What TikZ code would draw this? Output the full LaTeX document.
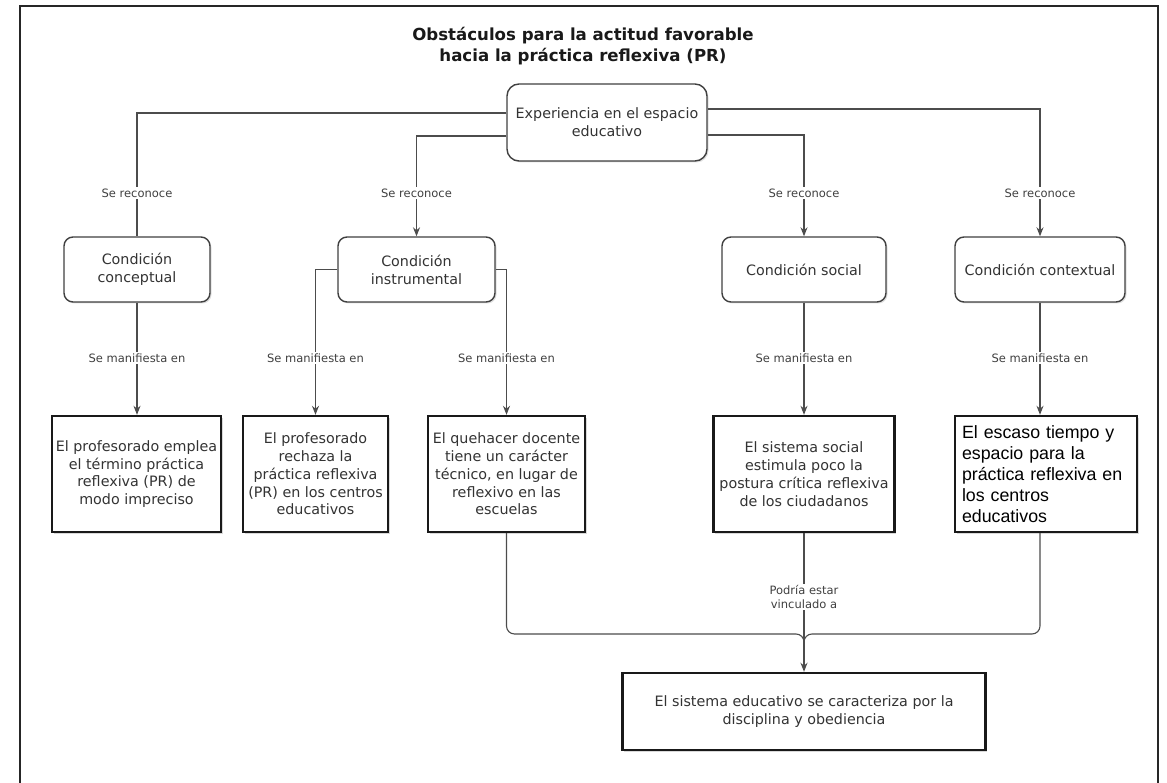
\documentclass[tikz,border=0pt]{standalone}
\usepackage{fontspec}
\setmainfont{DejaVu Sans}
\newfontfamily\helvfont{Liberation Sans}
\usetikzlibrary{arrows.meta,shadows}
\tikzset{
  outerframe/.style={draw=black!85,line width=2.5pt},
  conn/.style={draw=black!70,line width=1.1pt},
  arr/.style={conn,-{Stealth[length=9pt,width=7pt]}},
  boxfont/.style={font=\fontsize{14.3}{17.8}\selectfont,text=black!80},
  cond/.style={boxfont,draw=black!75,line width=1.4pt,rounded corners=9pt,fill=white,align=center,
    drop shadow={shadow xshift=1.5pt,shadow yshift=-1.5pt,opacity=0.25}},
  res/.style={boxfont,draw=black!90,line width=2.4pt,fill=white,align=center,minimum height=116pt,
    drop shadow={shadow xshift=1.5pt,shadow yshift=-1.5pt,opacity=0.3}},
  lbl/.style={fill=white,inner sep=1.5pt,font=\fontsize{11.5}{14.5}\selectfont,text=black!75,align=center},
}
\begin{document}
\begin{tikzpicture}[x=1pt,y=-1pt]
\useasboundingbox (0,0) rectangle (1167,783);
\def\ycond{269.5}
\def\yres{474}
\def\yrec{193}
\def\yman{358}

% frame, open at the bottom
\draw[outerframe] (20,790) -- (20,6) -- (1158,6) -- (1158,790);

\node[align=center,font=\fontsize{16.6}{20.5}\selectfont\bfseries,text=black!90] (title) at (583,46) {Obstáculos para la actitud favorable\\hacia la práctica reflexiva (PR)};

\node[cond,rounded corners=12pt,minimum width=200pt,minimum height=77pt] (exp) at (607,122.5) {Experiencia en el espacio\\educativo};

% conditions
\node[cond,minimum width=146pt,minimum height=65pt] (cconc) at (137,\ycond) {Condición\\conceptual};
\node[cond,minimum width=157pt,minimum height=65pt] (cinst) at (416.5,\ycond) {Condición\\instrumental};
\node[cond,minimum width=164pt,minimum height=65pt] (csoc) at (804,\ycond) {Condición social};
\node[cond,minimum width=170pt,minimum height=65pt] (ccont) at (1040,\ycond) {Condición contextual};

% manifestations
\node[res,minimum width=169pt] (rconc) at (136.5,\yres) {El profesorado emplea\\el término práctica\\reflexiva (PR) de\\modo impreciso};
\node[res,minimum width=145pt] (rinsta) at (315.5,\yres) {El profesorado\\rechaza la\\práctica reflexiva\\(PR) en los centros\\educativos};
\node[res,minimum width=157pt] (rinstb) at (506.5,\yres) {El quehacer docente\\tiene un carácter\\técnico, en lugar de\\reflexivo en las\\escuelas};
\node[res,minimum width=181pt] (rsoc) at (804,\yres) {El sistema social\\estimula poco la\\postura crítica reflexiva\\de los ciudadanos};
\node[res,align=left,text width=168pt,inner xsep=7pt,font=\helvfont\fontsize{17.8}{21}\selectfont,text=black] (rcont) at (1046,\yres) {El escaso tiempo y\\espacio para la\\práctica reflexiva en\\los centros\\educativos};

\node[res,minimum width=363pt,minimum height=77pt] (final) at (804,711.5) {El sistema educativo se caracteriza por la\\disciplina y obediencia};

\coordinate (jn) at (final.north |- 0,634);

% connectors
\draw[conn] ([yshift=9.5pt]exp.west) -| (cconc.north);
\draw[arr] ([yshift=-13.5pt]exp.west) -| (cinst.north);
\draw[arr] ([yshift=-12.5pt]exp.east) -| (csoc.north);
\draw[arr] ([yshift=13.5pt]exp.east) -| (ccont.north);

\draw[arr] (cconc.south) -- (cconc.south |- rconc.north);
\draw[arr] (cinst.west) -| (rinsta.north);
\draw[arr] (cinst.east) -| (rinstb.north);
\draw[arr] (csoc.south) -- (rsoc.north);
\draw[arr] (ccont.south) -- (ccont.south |- rcont.north);

\draw[conn,rounded corners=8pt] (rinstb.south) |- (jn) -- ([yshift=-8pt]jn);
\draw[conn,rounded corners=8pt] (ccont.south |- rcont.south) |- (jn) -- ([yshift=-8pt]jn);
\draw[conn] (rsoc.south) -- ([yshift=-8pt]jn);
\draw[arr,line width=1.8pt] ([yshift=-8pt]jn) -- (final.north);

% labels
\node[lbl] (lreca) at (cconc.north |- 0,\yrec) {Se reconoce};
\node[lbl] (lrecb) at (cinst.north |- 0,\yrec) {Se reconoce};
\node[lbl] (lrecc) at (csoc.north |- 0,\yrec) {Se reconoce};
\node[lbl] (lrecd) at (ccont.north |- 0,\yrec) {Se reconoce};
\node[lbl] (lmana) at (cconc.south |- 0,\yman) {Se manifiesta en};
\node[lbl] (lmanb) at (rinsta.north |- 0,\yman) {Se manifiesta en};
\node[lbl] (lmanc) at (rinstb.north |- 0,\yman) {Se manifiesta en};
\node[lbl] (lmand) at (rsoc.north |- 0,\yman) {Se manifiesta en};
\node[lbl] (lmane) at (ccont.south |- 0,\yman) {Se manifiesta en};
\node[lbl] (lvinc) at (jn |- 0,597) {Podría estar\\vinculado a};

\end{tikzpicture}
\end{document}
